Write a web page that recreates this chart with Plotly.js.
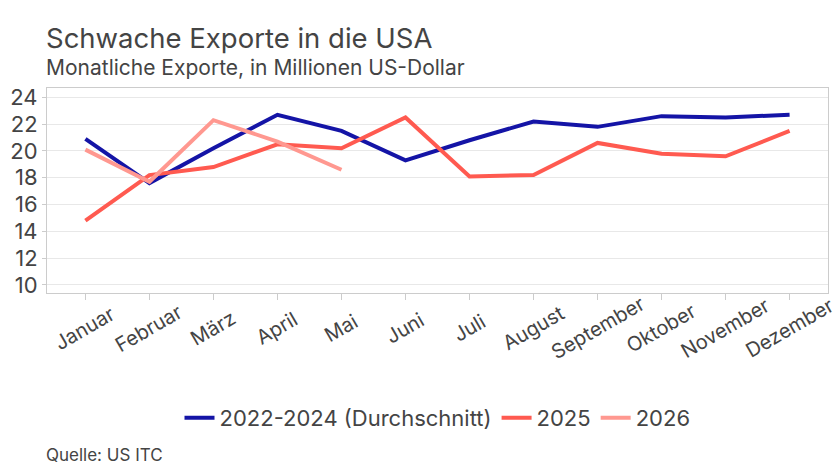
<!DOCTYPE html>
<html>
<head>
<meta charset="utf-8">
<script src="https://cdn.plot.ly/plotly-3.0.1.min.js"></script>
<style>
  html, body { margin: 0; padding: 0; background: #fff; }
  #chart { width: 840px; height: 470px; }
</style>
</head>
<body>
<div id="chart"></div>
<script>
// months on the x axis
var months = ["Januar", "Februar", "März", "April", "Mai", "Juni", "Juli",
              "August", "September", "Oktober", "November", "Dezember"];

// monthly exports, million US dollars
var avg2022to2024 = [20.9, 17.6, 20.2, 22.7, 21.5, 19.3, 20.8, 22.2, 21.8, 22.6, 22.5, 22.7];
var y2025 = [14.8, 18.2, 18.8, 20.5, 20.2, 22.5, 18.1, 18.2, 20.6, 19.8, 19.6, 21.5];
var y2026 = [20.1, 17.7, 22.3, 20.7, 18.6];

var seriesNames = ["2022-2024 (Durchschnitt)", "2025", "2026"];
var yTicks = [10, 12, 14, 16, 18, 20, 22, 24];

var fontFam = "Inter, 'Noto Sans', sans-serif";
var textCol = "#444444";

// plot area spans 88..293 px vertically, used to place the text blocks
var plotTop = 88, plotBottom = 293;
function paperY(px) { return (plotBottom - px) / (plotBottom - plotTop); }

function lineTrace(y, name, color) {
  return {
    x: months.slice(0, y.length),
    y: y,
    name: name,
    type: "scatter",
    mode: "lines",
    line: { color: color, width: 4 },
    hoverinfo: "skip"
  };
}

var traces = [
  lineTrace(avg2022to2024, seriesNames[0], "#1414a6"),
  lineTrace(y2025, seriesNames[1], "#ff5a50"),
  lineTrace(y2026, seriesNames[2], "#ff9890")
];

// month labels: rotated around their centre under each tick
// (plotly's own tick labels would end at the tick instead)
var monthLabels = months.map(function (m) {
  return {
    text: m,
    xref: "x", yref: "paper",
    x: m, y: paperY(328),
    xanchor: "center", yanchor: "middle",
    textangle: -30,
    showarrow: false,
    font: { size: 20, color: textCol }
  };
});

var textBlocks = [
  {
    text: "Schwache Exporte in die USA",
    xref: "paper", yref: "paper",
    x: 0, y: paperY(38),
    xanchor: "left", yanchor: "middle",
    xshift: -3,
    showarrow: false,
    font: { size: 27.5, color: textCol }
  },
  {
    text: "Monatliche Exporte, in Millionen US-Dollar",
    xref: "paper", yref: "paper",
    x: 0, y: paperY(68),
    xanchor: "left", yanchor: "middle",
    xshift: -3,
    showarrow: false,
    font: { size: 21, color: textCol }
  },
  {
    text: "Quelle: US ITC",
    xref: "paper", yref: "paper",
    x: 0, y: paperY(455),
    xanchor: "left", yanchor: "middle",
    xshift: -3,
    showarrow: false,
    font: { size: 17, color: textCol }
  }
];

var layout = {
  width: 840,
  height: 470,
  margin: { l: 47, r: 12, t: plotTop, b: 470 - plotBottom },
  paper_bgcolor: "#ffffff",
  plot_bgcolor: "#ffffff",
  font: { family: fontFam, color: textCol },
  showlegend: true,
  legend: {
    orientation: "h",
    xref: "paper", yref: "container",
    x: 0.5, xanchor: "center",
    y: 1 - 418 / 470, yanchor: "middle",
    font: { size: 22, color: textCol },
    itemwidth: 30,
    tracegroupgap: 0
  },
  xaxis: {
    type: "category",
    categoryarray: months,
    range: [-0.6, 11.6],
    showticklabels: false,
    ticks: "outside",
    ticklen: 6,
    tickcolor: "#cccccc",
    showgrid: false,
    showline: true,
    linecolor: "#cccccc",
    linewidth: 1,
    mirror: true,
    zeroline: false,
    fixedrange: true
  },
  yaxis: {
    range: [9.4, 24.7],
    tickvals: yTicks,
    tickfont: { size: 22, color: textCol },
    ticks: "outside",
    ticklen: 4,
    tickcolor: "#cccccc",
    gridcolor: "#e8e8e8",
    showline: true,
    linecolor: "#cccccc",
    mirror: true,
    zeroline: false,
    fixedrange: true
  },
  annotations: textBlocks.concat(monthLabels)
};

Plotly.newPlot("chart", traces, layout, { displayModeBar: false, staticPlot: true });
</script>
</body>
</html>
